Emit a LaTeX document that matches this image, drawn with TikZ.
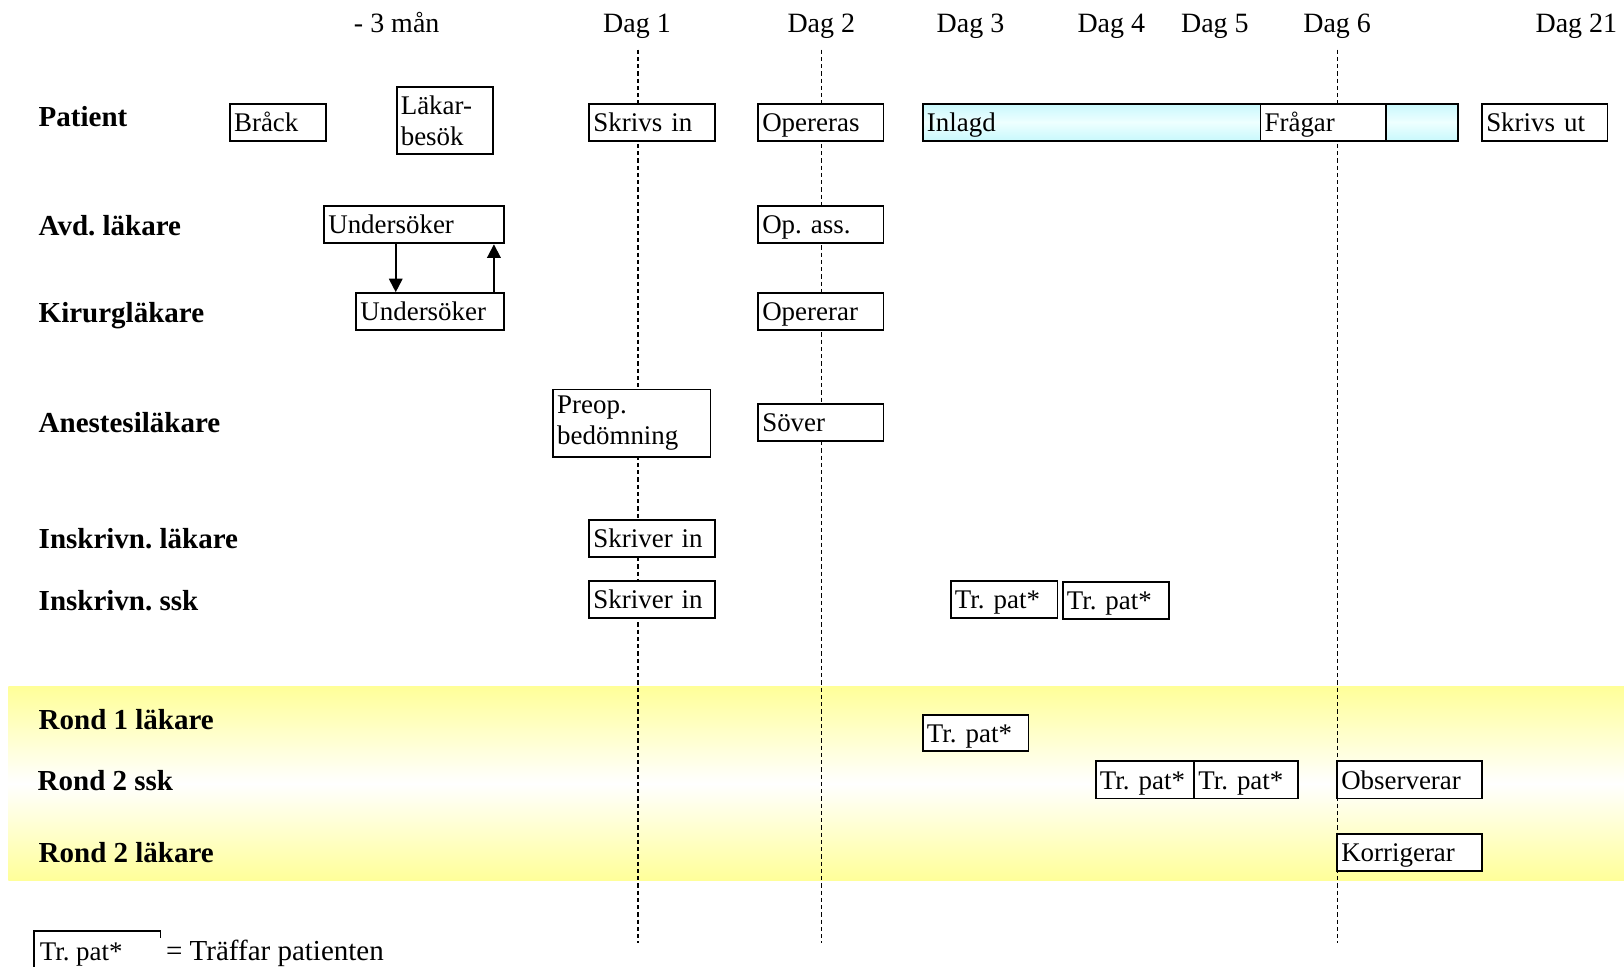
\documentclass[tikz,border=0pt]{standalone}
\usepackage{fontspec}
\setmainfont{Liberation Serif}
\usetikzlibrary{arrows.meta}
\frenchspacing
\definecolor{yel}{RGB}{255,255,153}
\definecolor{cyE}{RGB}{200,248,252}
\definecolor{cyM}{RGB}{238,255,255}
\tikzset{
  tb/.style={draw, line width=0.9pt, fill=white, inner xsep=2pt, inner ysep=0pt,
    align=left, font=\fontsize{13}{15}\selectfont},
  one/.style={text height=8.9pt, text depth=0pt},
  lbl/.style={anchor=base west, inner sep=0pt, font=\bfseries\fontsize{14}{16}\selectfont},
  hdr/.style={anchor=base, inner sep=0pt, font=\fontsize{13.5}{16}\selectfont},
  txt/.style={anchor=base west, inner sep=0pt, font=\fontsize{13}{15}\selectfont},
  dl/.style={line width=0.5pt, dash pattern=on 2pt off 1.5pt},
  arr/.style={line width=0.9pt, -{Triangle[length=6.5pt,width=6.5pt]}}
}
\newcommand{\tbox}[7][]{%
  \pgfmathsetlengthmacro{\tbw}{(#5-#3)*0.5pt-4pt}%
  \node[tb, #1, minimum height={(#6-#4)*0.5pt}, text width=\tbw] (#2) at ({(#3+#5)/2},{(#4+#6)/2}) {#7};}
\begin{document}
\begin{tikzpicture}[x=0.5pt,y=-0.5pt]
\useasboundingbox (0,0) rectangle (1568,933);
\clip (0,0) rectangle (1568,933);
% yellow band
\fill[top color=yel, bottom color=yel, middle color=white] (8,663) rectangle (1568,850);
% headers
\node[hdr] (h0) at (383,31) {- 3 mån};
\node[hdr] (h1) at (615,31) {Dag 1};
\node[hdr] (h2) at (793,31) {Dag 2};
\node[hdr] (h3) at (937,31) {Dag 3};
\node[hdr] (h4) at (1073,31) {Dag 4};
\node[hdr] (h5) at (1173,31) {Dag 5};
\node[hdr] (h6) at (1291,31) {Dag 6};
\node[hdr] (h21) at (1522,31) {Dag 21};
% dashed day lines
\coordinate (d1t) at (616,48); \coordinate (d1b) at (616,910);
\coordinate (d2t) at (793,48); \coordinate (d2b) at (793,910);
\coordinate (d6t) at (1291,48); \coordinate (d6b) at (1291,910);
\draw[dl] (d1t) -- (d1b);
\draw[dl] (d2t) -- (d2b);
\draw[dl] (d6t) -- (d6b);
% row labels
\node[lbl] (lpat) at (37,122) {Patient};
\node[lbl] (lavd) at (37,227) {Avd. läkare};
\node[lbl] (lkir) at (37,311) {Kirurgläkare};
\node[lbl] (lane) at (37,418) {Anestesiläkare};
\node[lbl] (linl) at (37,530) {Inskrivn. läkare};
\node[lbl] (lins) at (37,589) {Inskrivn. ssk};
\node[lbl] (lr1) at (37,704) {Rond 1 läkare};
\node[lbl] (lr2s) at (36,763) {Rond 2 ssk};
\node[lbl] (lr2l) at (37,833) {Rond 2 läkare};
% patient row
\tbox[one]{brack}{222}{100}{315}{136}{Bråck}
\tbox{lakbes}{383}{84}{476}{149}{Läkar-\\besök}
\tbox[one]{skrin}{569}{100}{690}{136}{Skrivs in}
\tbox[one]{oper}{732}{100}{853}{136}{Opereras}
\tbox[one, top color=cyE, bottom color=cyE, middle color=cyM]{inlagd}{891}{100}{1408}{136}{Inlagd}
\tbox[one]{fragar}{1217}{100}{1338}{136}{Frågar}
\tbox[one]{skrut}{1431}{100}{1552}{136}{Skrivs ut}
% avd / kir
\tbox[one]{ua}{313}{199}{487}{235}{Undersöker}
\tbox[one]{opass}{732}{199}{853}{235}{Op. ass.}
\tbox[one]{uk}{344}{283}{487}{319}{Undersöker}
\tbox[one]{operar}{732}{283}{853}{319}{Opererar}
\draw[arr] ([xshift=35pt]ua.south west) -- ([xshift=35pt]ua.south west |- uk.north);
\draw[arr] ([xshift=-5.5pt]uk.north east) -- ([xshift=-5.5pt]uk.north east |- ua.south);
% anestesi
\tbox{preop}{534}{376}{686}{441}{Preop.\\bedömning}
\tbox[one]{sover}{732}{390}{853}{426}{Söver}
% inskrivning
\tbox[one]{skl}{569}{502}{690}{538}{Skriver in}
\tbox[one]{sks}{569}{561}{690}{597}{Skriver in}
\tbox[one]{tp1}{918}{561}{1021}{597}{Tr. pat*}
\tbox[one]{tp2}{1026}{562}{1129}{598}{Tr. pat*}
% rond
\tbox[one]{tp3}{891}{690}{993}{725}{Tr. pat*}
\tbox[one]{tp4}{1058}{735}{1153}{771}{Tr. pat*}
\tbox[one]{tp5}{1153}{735}{1253}{771}{Tr. pat*}
\tbox[one]{obs}{1291}{735}{1431}{771}{Observerar}
\tbox[one]{korr}{1291}{805}{1431}{841}{Korrigerar}
% legend
\tbox[one]{leg}{33}{899}{155}{955}{}
\node[txt] (legbox) at (38,927) {Tr. pat*};
\node[txt, fill=white, inner xsep=4pt, inner ysep=1pt, font=\fontsize{14}{16}\selectfont] (legtxt) at (152,927) {= Träffar patienten};
\end{tikzpicture}
\end{document}
